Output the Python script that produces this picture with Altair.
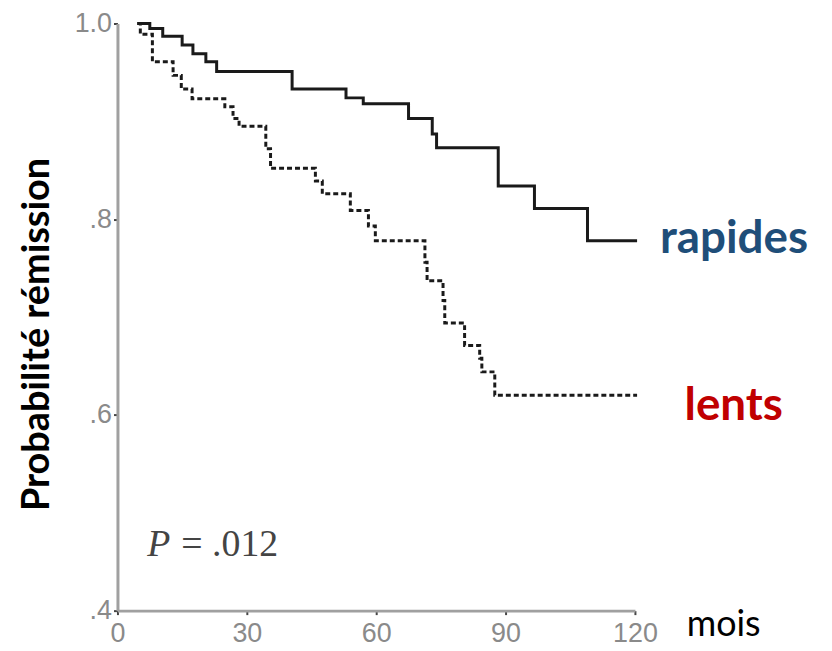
import altair as alt
import pandas as pd

# Kaplan-Meier style curves
months_rapides = [4.6, 7.5, 10.5, 15.0, 17.5, 20.5, 23.0, 40.5, 53.0, 57.0, 67.5, 73.0, 74.0, 88.3, 96.7, 109.0, 120.5]
surv_rapides = [1.0, 0.995, 0.987, 0.978, 0.969, 0.961, 0.951, 0.933, 0.924, 0.918, 0.903, 0.887, 0.873, 0.834, 0.811, 0.778, 0.778]

months_lents = [4.6, 5.3, 8.1, 12.9, 14.8, 17.3, 24.9, 26.8, 28.2, 34.4, 35.5, 45.9, 47.5, 54.0, 58.2, 59.8,
                71.3, 71.8, 75.5, 75.9, 80.5, 84.0, 84.5, 87.5, 120.5]
surv_lents = [1.0, 0.989, 0.961, 0.947, 0.933, 0.923, 0.915, 0.903, 0.895, 0.872, 0.852, 0.839, 0.826, 0.809, 0.793, 0.778,
              0.756, 0.737, 0.717, 0.694, 0.671, 0.658, 0.644, 0.620, 0.620]

x_ticks = [0, 30, 60, 90, 120]
y_ticks = [0.4, 0.6, 0.8, 1.0]

labels_series = ["rapides", "lents"]
label_colors = ["#1F4E79", "#C00000"]
label_t = [125.8, 131.5]
label_s = [0.765, 0.595]

df_r = pd.DataFrame({"t": months_rapides, "s": surv_rapides})
df_l = pd.DataFrame({"t": months_lents, "s": surv_lents})

x_enc = alt.X("t:Q", scale=alt.Scale(domain=[0, 120], nice=False, zero=False),
              axis=alt.Axis(values=x_ticks, title=None, grid=False, domainColor="#a0a0a0", domainWidth=3,
                            tickColor="#444", tickSize=4, tickWidth=2, labelFont="Liberation Sans",
                            labelFontSize=27, labelColor="#8a8a8a", labelPadding=6, labelFlush=False))
y_enc = alt.Y("s:Q", scale=alt.Scale(domain=[0.4, 1.0], nice=False, zero=False),
              axis=alt.Axis(values=y_ticks, title="Probabilité rémission", grid=False,
                            labelExpr="datum.value == 1 ? '1.0' : replace(format(datum.value, '.1f'), '0.', '.')",
                            domainColor="#a0a0a0", domainWidth=3, tickColor="#444", tickSize=4, tickWidth=2,
                            labelFont="Liberation Sans", labelFontSize=27, labelColor="#8a8a8a", labelPadding=2,
                            labelFlush=False,
                            titleFont="Lato", titleFontSize=38, titleFontWeight="bold", titleColor="#000",
                            titleX=-80, titleY=312, titleAlign="center", titleBaseline="middle", titleAngle=-90))

line_r = alt.Chart(df_r).mark_line(interpolate="step-after", color="#1a1a1a", strokeWidth=3).encode(x=x_enc, y=y_enc)
line_l = alt.Chart(df_l).mark_line(interpolate="step-after", color="#1a1a1a", strokeWidth=3,
                                   strokeDash=[5, 3]).encode(x="t:Q", y="s:Q")

txt_r = alt.Chart(pd.DataFrame({"t": [label_t[0]], "s": [label_s[0]], "label": [labels_series[0]]})).mark_text(
    align="left", baseline="alphabetic", font="Lato", fontWeight="bold", fontSize=46, color=label_colors[0]
).encode(x="t:Q", y="s:Q", text="label:N")
txt_l = alt.Chart(pd.DataFrame({"t": [label_t[1]], "s": [label_s[1]], "label": [labels_series[1]]})).mark_text(
    align="left", baseline="alphabetic", font="Lato", fontWeight="bold", fontSize=46, color=label_colors[1]
).encode(x="t:Q", y="s:Q", text="label:N")
txt_mois = alt.Chart(pd.DataFrame({"t": [132.0], "s": [0.374], "label": ["mois"]})).mark_text(
    align="left", baseline="alphabetic", font="Lato", fontSize=36, color="#000"
).encode(x="t:Q", y="s:Q", text="label:N")
txt_p = alt.Chart(pd.DataFrame({"t": [6.9], "s": [0.456], "label": ["P"]})).mark_text(
    align="left", baseline="alphabetic", font="Liberation Serif", fontStyle="italic", fontSize=38, color="#444"
).encode(x="t:Q", y="s:Q", text="label:N")
txt_pv = alt.Chart(pd.DataFrame({"t": [14.8], "s": [0.456], "label": ["= .012"]})).mark_text(
    align="left", baseline="alphabetic", font="Liberation Serif", fontSize=38, color="#444"
).encode(x="t:Q", y="s:Q", text="label:N")

chart = alt.layer(line_r, line_l, txt_r, txt_l, txt_mois, txt_p, txt_pv).properties(
    width=520, height=590,
    autosize=alt.AutoSizeParams(type="none"),
    padding={"left": 110, "top": 14, "right": 190, "bottom": 44},
).configure(background="white").configure_view(strokeWidth=0, stroke=None)

chart.save("out.html", embed_options={"renderer": "svg", "actions": False})
